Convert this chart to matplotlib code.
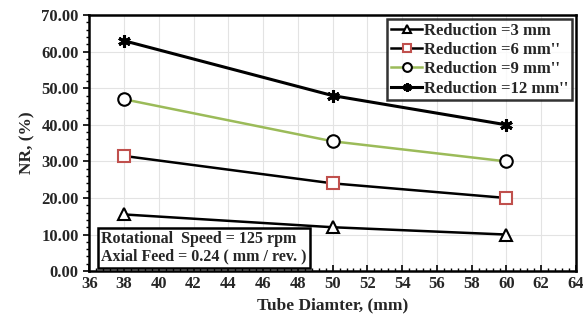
import matplotlib
matplotlib.use("Agg")
import matplotlib.pyplot as plt
from matplotlib.ticker import MultipleLocator

plt.rcParams["font.family"] = "Liberation Serif"
plt.rcParams["font.weight"] = "bold"

# data
diameters = [38, 50, 60]
nr_3mm = [15.5, 12.0, 10.0]
nr_6mm = [31.5, 24.0, 20.0]
nr_9mm = [47.0, 35.5, 30.0]
nr_12mm = [63.0, 48.0, 40.0]

fig = plt.figure(figsize=(5.83, 3.22), dpi=100)
ax = fig.add_axes([0.153, 0.158, 0.835, 0.795])

ax.plot(diameters, nr_3mm, color="black", lw=1.8, marker="^", ms=9,
        mfc="white", mec="black", mew=1.5, label="Reduction =3 mm")
ax.plot(diameters, nr_6mm, color="black", lw=1.8, marker="s", ms=8,
        mfc="white", mec="#c0504d", mew=1.5, label="Reduction =6 mm''")
ax.plot(diameters, nr_9mm, color="#9bbb59", lw=1.8, marker="o", ms=9,
        mfc="white", mec="black", mew=1.5, label="Reduction =9 mm''")
ax.plot(diameters, nr_12mm, color="black", lw=2.2, marker=(6, 2, 0), ms=9,
        mec="black", mew=2.2, label="Reduction =12 mm''")

ax.set_xlim(36, 64)
ax.set_ylim(0, 70)
ax.xaxis.set_major_locator(MultipleLocator(2))
ax.xaxis.set_minor_locator(MultipleLocator(0.4))
ax.yaxis.set_major_locator(MultipleLocator(10))
ax.yaxis.set_minor_locator(MultipleLocator(2))
ax.yaxis.set_major_formatter(lambda v, p: f"{v:.2f}")
ax.tick_params(which="major", direction="in", length=4, width=1.2, labelsize=12,
               labelcolor="#262626")
ax.tick_params(which="minor", direction="in", length=2.5, width=1)
ax.tick_params(axis="y", which="both", direction="out")
ax.grid(True, color="#e3e3e3", lw=0.8)
ax.set_axisbelow(True)
for s in ax.spines.values():
    s.set_linewidth(1.8)

ax.set_xlabel("Tube Diamter, (mm)", fontsize=12.5, fontweight="bold", labelpad=4,
              color="#262626")
ax.set_ylabel("NR, (%)", fontsize=12.5, fontweight="bold", labelpad=4,
              color="#262626")

leg = ax.legend(loc="upper right", fontsize=12, frameon=True, fancybox=False,
                handlelength=1.9, handletextpad=0.1, borderpad=0.2,
                labelspacing=0.2, borderaxespad=0.25, markerscale=0.7)
leg.get_frame().set_edgecolor("black")
leg.get_frame().set_linewidth(1.8)
for t in leg.get_texts():
    t.set_fontweight("bold")
    t.set_color("#262626")

ax.text(0.025, 0.025, "Rotational  Speed = 125 rpm\nAxial Feed = 0.24 ( mm / rev. )",
        transform=ax.transAxes, fontsize=11.5, fontweight="bold", va="bottom",
        linespacing=1.15, color="#262626",
        bbox=dict(boxstyle="square,pad=0.2", fc="white", ec="black", lw=1.8))

fig.savefig("out.png", dpi=100)
